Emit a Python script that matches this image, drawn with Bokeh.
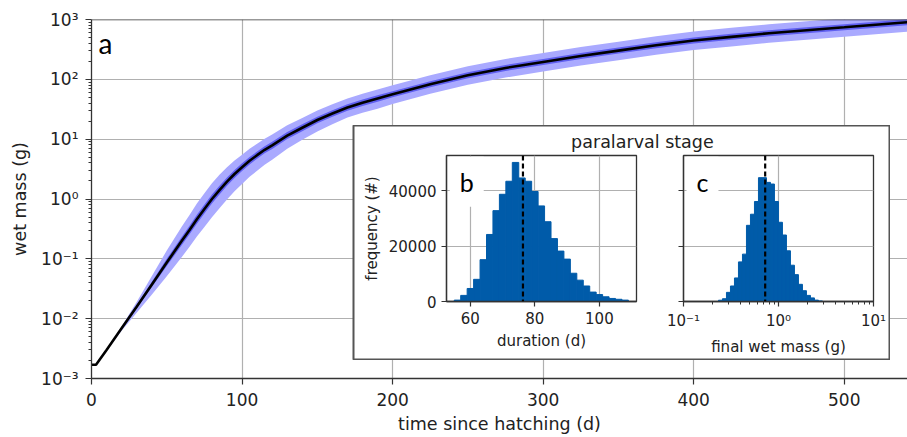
import numpy as np
from bokeh.plotting import figure
from bokeh.models import Range1d, FixedTicker, CustomJSTickFormatter, Label, Span
from bokeh.layouts import column, row
from bokeh.embed import file_html
from bokeh.resources import INLINE

# ---------------- data ----------------
t_days = [0, 3, 10, 20, 30, 40, 50, 60, 65, 70, 75, 80, 85, 90, 95, 100, 105, 110, 115, 120,
          130, 140, 150, 160, 170, 180, 190, 200, 225, 250, 275, 300, 325, 350, 375, 400, 425,
          450, 475, 500, 525, 545]
median_mass_g = [0.0017, 0.0017, 0.0030, 0.0069, 0.0158, 0.037, 0.087, 0.20, 0.30, 0.46, 0.68,
                 1.0, 1.41, 1.95, 2.62, 3.4, 4.37, 5.4, 6.65, 7.9, 11.5, 15.5, 20.9, 26.9, 33.9,
                 40.7, 47.9, 56.2, 83, 117, 155, 195, 245, 302, 372, 447, 513, 589, 661, 741,
                 832, 912]
# spread of the outer (light) band above / below the median, in decades
outer_up_dec = [0.0, 0.0, 0.01, 0.03, 0.08, 0.14, 0.20, 0.24, 0.25, 0.26, 0.265, 0.265, 0.255,
                0.24, 0.225, 0.21, 0.20, 0.19, 0.185, 0.18, 0.17, 0.165, 0.16, 0.155, 0.15, 0.15,
                0.15, 0.15, 0.15, 0.15, 0.15, 0.15, 0.15, 0.15, 0.15, 0.15, 0.15, 0.15, 0.15,
                0.15, 0.15, 0.15]
outer_lo_dec = [0.02, 0.02, 0.015, 0.04, 0.10, 0.17, 0.23, 0.27, 0.28, 0.29, 0.30, 0.305, 0.305,
                0.30, 0.29, 0.28, 0.27, 0.26, 0.25, 0.24, 0.22, 0.20, 0.19, 0.18, 0.17, 0.17,
                0.17, 0.16, 0.16, 0.16, 0.16, 0.16, 0.16, 0.16, 0.16, 0.16, 0.16, 0.16, 0.16,
                0.16, 0.16, 0.16]
# spread of the inner (dark) band, in decades
inner_dec = [0.0, 0.0, 0.005, 0.015, 0.03, 0.045, 0.06, 0.07, 0.072, 0.075, 0.075, 0.075, 0.072,
             0.07, 0.067, 0.065, 0.062, 0.06, 0.06, 0.06, 0.06, 0.06, 0.055, 0.055, 0.055, 0.055,
             0.055, 0.05, 0.05, 0.05, 0.05, 0.05, 0.05, 0.05, 0.05, 0.05, 0.05, 0.05, 0.05,
             0.05, 0.05, 0.05]

duration_bin_edges = list(range(55, 111, 2))
duration_counts = [500, 2200, 4700, 8000, 15100, 24200, 32800, 38700, 43400, 50200, 44600,
                   43400, 39700, 34500, 28800, 22700, 18200, 15300, 10200, 7700, 5600, 3400,
                   2500, 1700, 1100, 800, 500]
median_duration_d = 76.3

mass_bin_log10_start = -0.632
mass_bin_log10_width = 0.0421
final_mass_counts = [460, 1000, 3300, 5600, 8500, 14300, 17100, 27500, 31500, 36100, 44700,
                     44700, 43000, 42400, 36100, 28600, 24000, 18300, 13100, 9700, 6200, 3900,
                     2200, 1300, 500, 200]
median_final_mass_g = 0.724

main_x_ticks = [0, 100, 200, 300, 400, 500]
main_y_ticks = [1e-3, 1e-2, 1e-1, 1e0, 1e1, 1e2, 1e3]
dur_x_ticks = [60, 80, 100]
freq_ticks = [0, 20000, 40000]
mass_x_ticks = [0.1, 1, 10]

# ---------------- style ----------------
FONT = "DejaVu Sans"
TXT = "#222222"
AX = "#333333"
GRID = "#b0b0b0"
HIST = "#005ba9"

pow_fmt = CustomJSTickFormatter(code="""
const sup = {"-": "\\u207b", "0": "\\u2070", "1": "\\u00b9", "2": "\\u00b2", "3": "\\u00b3",
             "4": "\\u2074", "5": "\\u2075", "6": "\\u2076", "7": "\\u2077", "8": "\\u2078", "9": "\\u2079"};
const e = Math.round(Math.log10(tick));
return "10" + String(e).split("").map(c => sup[c]).join("");
""")
blank_fmt = CustomJSTickFormatter(code="return '';")


def style_axis(ax, label_size, tick_size, tick_out):
    ax.axis_line_color = AX
    ax.axis_line_width = 1.3
    ax.major_tick_line_color = AX
    ax.major_tick_line_width = 1.2
    ax.major_tick_out = tick_out
    ax.major_tick_in = 0
    ax.minor_tick_line_color = None
    ax.major_label_text_font = FONT
    ax.major_label_text_font_size = tick_size
    ax.major_label_text_color = TXT
    ax.axis_label_text_font = FONT
    ax.axis_label_text_font_size = label_size
    ax.axis_label_text_font_style = "normal"
    ax.axis_label_text_color = TXT


# ---------------- main panel ----------------
t = np.array(t_days, dtype=float)
med = np.array(median_mass_g)
o_hi = med * 10 ** np.array(outer_up_dec)
o_lo = med / 10 ** np.array(outer_lo_dec)
i_hi = med * 10 ** np.array(inner_dec)
i_lo = med / 10 ** np.array(inner_dec)

p = figure(width=907, height=437, x_range=Range1d(0, 542), y_range=Range1d(1e-3, 1e3),
           y_axis_type="log", output_backend="svg", toolbar_location=None,
           min_border_left=91, min_border_right=0, min_border_top=19, min_border_bottom=59,
           background_fill_color="white", border_fill_color="white", outline_line_color=None)
p.varea(x=t, y1=o_lo, y2=o_hi, fill_color="#aaaaff")
p.varea(x=t, y1=i_lo, y2=i_hi, fill_color="#5f5ff0")
p.line(t, med, line_color="black", line_width=2.6)

style_axis(p.xaxis[0], "17.5px", "17px", 6)
style_axis(p.yaxis[0], "17.5px", "17px", 6)
p.xaxis.ticker = FixedTicker(ticks=main_x_ticks)
p.yaxis.ticker = FixedTicker(ticks=main_y_ticks,
                             minor_ticks=[k * 10.0 ** e for e in range(-3, 3) for k in range(2, 10)])
p.yaxis.formatter = pow_fmt
p.yaxis.minor_tick_line_color = AX
p.yaxis.minor_tick_out = 3
p.yaxis.minor_tick_in = 0
p.xaxis.axis_label = "time since hatching (d)"
p.yaxis.axis_label = "wet mass (g)"
p.xaxis.major_label_standoff = 8
p.yaxis.major_label_standoff = 7
p.yaxis.axis_label_standoff = 8
p.grid.grid_line_color = GRID
p.grid.grid_line_width = 1.2
p.add_layout(Span(location=1e3, dimension="width", line_color=AX, line_width=1.5))
p.add_layout(Label(x=4.65, y=412, text="a", text_font="Lato", text_font_size="28px",
                   text_color="black", text_baseline="alphabetic"))

# ---------------- inset box (frame = white box, left border transparent) ----------------
box = figure(width=628, height=235, x_range=Range1d(0, 1), y_range=Range1d(0, 1),
             output_backend="svg", toolbar_location=None, x_axis_location=None,
             y_axis_location=None, min_border_left=91, min_border_right=0,
             min_border_top=0, min_border_bottom=0, background_fill_color="white",
             border_fill_color=None, outline_line_color="#555555", outline_line_width=2)
box.grid.visible = False
box.add_layout(Label(x=0.538, y=0.93, text="paralarval stage", text_font=FONT,
                     text_font_size="17.5px", text_color=TXT, text_align="center",
                     text_baseline="alphabetic"))
box.margin = (-312, 0, 0, 262)

# ---------------- inset b ----------------
fb = figure(width=305, height=208, x_range=Range1d(52.6, 111.5), y_range=Range1d(0, 52700),
            output_backend="svg", toolbar_location=None,
            min_border_left=91, min_border_right=24, min_border_top=5, min_border_bottom=49,
            background_fill_color="white", border_fill_color=None,
            outline_line_color=AX, outline_line_width=1.3)
de = np.array(duration_bin_edges, dtype=float)
fb.quad(left=de[:-1], right=de[1:], bottom=0, top=duration_counts,
        fill_color=HIST, line_color=HIST, line_width=1)
fb.add_layout(Span(location=median_duration_d, dimension="height", line_color="black",
                   line_width=2.2, line_dash="5 3"))
style_axis(fb.xaxis[0], "15px", "15px", 5)
style_axis(fb.yaxis[0], "15px", "15px", 5)
fb.xaxis.ticker = FixedTicker(ticks=dur_x_ticks)
fb.yaxis.ticker = FixedTicker(ticks=freq_ticks)
fb.xaxis.axis_label = "duration (d)"
fb.yaxis.axis_label = "frequency (#)"
fb.xaxis.major_label_standoff = 5
fb.yaxis.major_label_standoff = 5
fb.grid.grid_line_color = GRID
fb.grid.grid_line_width = 1.2
fb.add_layout(Label(x=53.6, y=43200, text="b", text_font="Lato", text_font_size="25px",
                    text_color="black", text_baseline="alphabetic",
                    background_fill_color="white", padding=10))

# ---------------- inset c ----------------
fc = figure(width=228, height=208, x_range=Range1d(0.1, 10), y_range=Range1d(0, 52700),
            x_axis_type="log", output_backend="svg", toolbar_location=None,
            min_border_left=23, min_border_right=15, min_border_top=5, min_border_bottom=49,
            background_fill_color="white", border_fill_color=None,
            outline_line_color=AX, outline_line_width=1.3)
me = 10 ** (mass_bin_log10_start + mass_bin_log10_width * np.arange(len(final_mass_counts) + 1))
fc.quad(left=me[:-1], right=me[1:], bottom=0, top=final_mass_counts,
        fill_color=HIST, line_color=HIST, line_width=1)
fc.add_layout(Span(location=median_final_mass_g, dimension="height", line_color="black",
                   line_width=2.2, line_dash="5 3"))
style_axis(fc.xaxis[0], "15px", "15px", 5)
style_axis(fc.yaxis[0], "15px", "15px", 5)
fc.xaxis.ticker = FixedTicker(ticks=mass_x_ticks,
                              minor_ticks=[k * 10.0 ** e for e in (-1, 0) for k in range(2, 10)])
fc.xaxis.formatter = pow_fmt
fc.xaxis.minor_tick_line_color = AX
fc.xaxis.minor_tick_out = 3
fc.xaxis.minor_tick_in = 0
fc.yaxis.ticker = FixedTicker(ticks=freq_ticks)
fc.yaxis.formatter = blank_fmt
fc.yaxis.major_label_standoff = 0
fc.xaxis.axis_label = "final wet mass (g)"
fc.xaxis.major_label_standoff = 5
fc.grid.grid_line_color = GRID
fc.grid.grid_line_width = 1.2
fc.add_layout(Label(x=0.1076, y=43200, text="c", text_font="Lato", text_font_size="25px",
                    text_color="black", text_baseline="alphabetic",
                    background_fill_color="white", padding=10))

insets = row(fb, fc)
insets.margin = (-210, 0, 0, 355)

layout = column(p, box, insets)
open("out.html", "w").write(file_html(layout, INLINE))
